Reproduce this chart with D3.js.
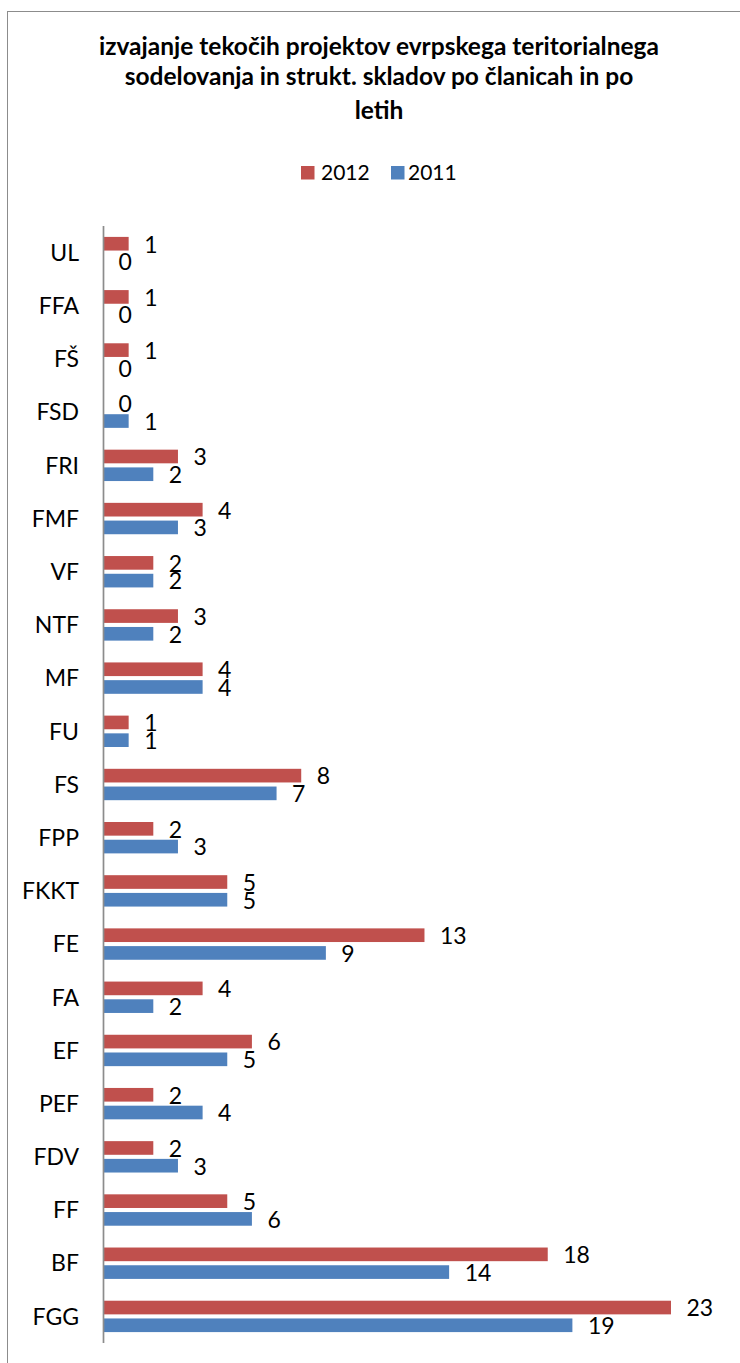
<!DOCTYPE html>
<html><head><meta charset="utf-8">
<script src="https://cdn.jsdelivr.net/npm/d3@7"></script>
<style>body{margin:0;background:#fff}svg{display:block}</style>
</head><body>
<svg id="c" width="740" height="1363"></svg>
<script>
const categories = ["UL","FFA","FŠ","FSD","FRI","FMF","VF","NTF","MF","FU","FS","FPP","FKKT","FE","FA","EF","PEF","FDV","FF","BF","FGG"];
const values2012 = [1,1,1,0,3,4,2,3,4,1,8,2,5,13,4,6,2,2,5,18,23];
const values2011 = [0,0,0,1,2,3,2,2,4,1,7,3,5,9,2,5,4,3,6,14,19];
const seriesNames = ["2012","2011"];
const seriesColors = ["#C0504D","#4F81BD"];
const titleLines = ["izvajanje tekočih projektov evrpskega teritorialnega","sodelovanja in strukt. skladov po članicah in po","letih"];

const svg = d3.select("#c");
const font = "Lato, 'Open Sans', sans-serif";

svg.append("rect").attr("x",7.5).attr("y",11.5).attr("width",760).attr("height",1400)
  .attr("fill","#fff").attr("stroke","#8c8c8c").attr("stroke-width",1);

const titleY = [55,85,119];
svg.append("g").selectAll("text").data(titleLines).join("text")
  .attr("x",379).attr("y",(d,i)=>titleY[i])
  .attr("text-anchor","middle").attr("font-family",font).attr("font-weight","bold")
  .attr("font-size",24.5).attr("fill","#000").text(d=>d);

// legend
const leg = svg.append("g");
const legSq = [301,391];
const legTx = [321,408];
seriesNames.forEach((s,i)=>{
  leg.append("rect").attr("x",legSq[i]).attr("y",166).attr("width",13.5).attr("height",13.5).attr("fill",seriesColors[i]);
  leg.append("text").attr("x",legTx[i]).attr("y",179.5).attr("font-family",font).attr("font-size",21).attr("fill","#000").text(s);
});

const x = d3.scaleLinear().domain([0,23]).range([104,671]);
const y0 = d3.scaleBand().domain(categories).range([226,1343]).paddingInner(0.41).paddingOuter(0.205);
const y1 = d3.scaleBand().domain(seriesNames).range([0,y0.bandwidth()]).paddingInner(0.23);

const data = categories.map((c,i)=>({cat:c, vals:[values2012[i],values2011[i]]}));

const groups = svg.append("g").selectAll("g").data(data).join("g")
  .attr("transform",d=>`translate(0,${y0(d.cat)})`);

groups.selectAll("rect").data(d=>d.vals.map((v,j)=>({v,s:seriesNames[j],c:seriesColors[j]}))).join("rect")
  .attr("x",x(0)).attr("y",d=>y1(d.s)).attr("width",d=>x(d.v)-x(0)).attr("height",y1.bandwidth())
  .attr("fill",d=>d.c);

groups.selectAll("text.val").data(d=>d.vals.map((v,j)=>({v,s:seriesNames[j]}))).join("text")
  .attr("class","val")
  .attr("x",d=>x(d.v)+(d.v===0?14.5:15.5)).attr("y",d=>y1(d.s)+y1.bandwidth()+2)
  .attr("font-family",font).attr("font-size",23).attr("fill","#000").text(d=>d.v);

// category axis
const axis = d3.axisLeft(y0).tickSize(0).tickPadding(25);
const ag = svg.append("g").attr("transform",`translate(${x(0)},0)`).call(axis);
ag.select(".domain").attr("stroke","#8c8c8c").attr("stroke-width",1.7).attr("d",`M-0.5,226V1343`);
ag.selectAll("text").attr("font-family",font).attr("font-size",23).attr("fill","#000").attr("dy","0.36em");
</script>
</body></html>
